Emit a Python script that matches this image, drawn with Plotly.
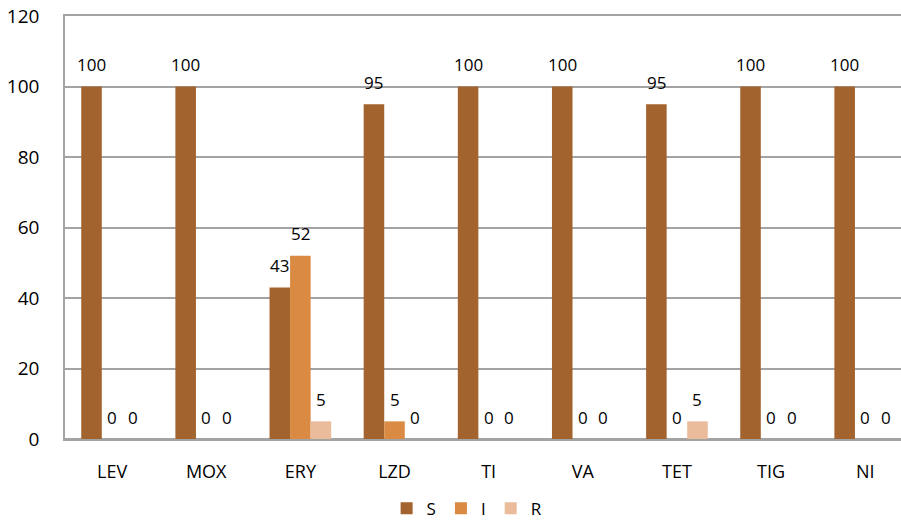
import plotly.graph_objects as go

# Susceptibility profile (%) per antibiotic
antibiotics = ["LEV", "MOX", "ERY", "LZD", "TI", "VA", "TET", "TIG", "NI"]
susceptible = [100, 100, 43, 95, 100, 100, 95, 100, 100]
intermediate = [0, 0, 52, 5, 0, 0, 0, 0, 0]
resistant = [0, 0, 5, 0, 0, 0, 5, 0, 0]

series = [
    ("S", susceptible, "#A3632F"),
    ("I", intermediate, "#DA8A42"),
    ("R", resistant, "#EBBC9C"),
]

BARGAP = 0.345
bar_w = (1 - BARGAP) / 3
TEXT = "#000000"

fig = go.Figure()
annotations = []
for j, (name, vals, color) in enumerate(series):
    fig.add_trace(go.Bar(
        name=name, x=antibiotics, y=vals,
        marker=dict(color=color, line=dict(width=0)),
    ))
    # value label above each bar of this series
    for i, v in enumerate(vals):
        annotations.append(dict(
            x=i + (j - 1) * bar_w, y=v, xref="x", yref="y",
            text=str(v), showarrow=False, yanchor="middle", yshift=22,
            font=dict(family="Open Sans", size=17, color=TEXT),
        ))

fig.update_layout(
    width=901, height=529,
    margin=dict(l=65, r=0, t=16, b=90),
    paper_bgcolor="white", plot_bgcolor="white",
    barmode="group", bargap=BARGAP, bargroupgap=0,
    annotations=annotations,
    showlegend=True,
    legend=dict(
        orientation="h", x=0.481, xanchor="center", y=-0.165, yanchor="middle",
        font=dict(family="Open Sans", size=17, color=TEXT),
        itemwidth=30, tracegroupgap=0,
    ),
    xaxis=dict(
        type="category", range=[-0.5, 8.38],
        showline=True, mirror=True, linecolor="#A3A3A3", linewidth=1.5,
        showgrid=False, ticks="",
        tickfont=dict(family="Open Sans", size=18, color=TEXT),
        ticklabelstandoff=16,
    ),
    yaxis=dict(
        range=[0, 120], dtick=20,
        showgrid=True, gridcolor="#A3A3A3", gridwidth=1.5,
        showline=True, linecolor="#A3A3A3", linewidth=1.5,
        zeroline=True, zerolinecolor="#A3A3A3", zerolinewidth=1.5,
        ticks="", ticklabelstandoff=20,
        tickfont=dict(family="Open Sans", size=19, color=TEXT),
    ),
)

fig.write_html("out.html")
